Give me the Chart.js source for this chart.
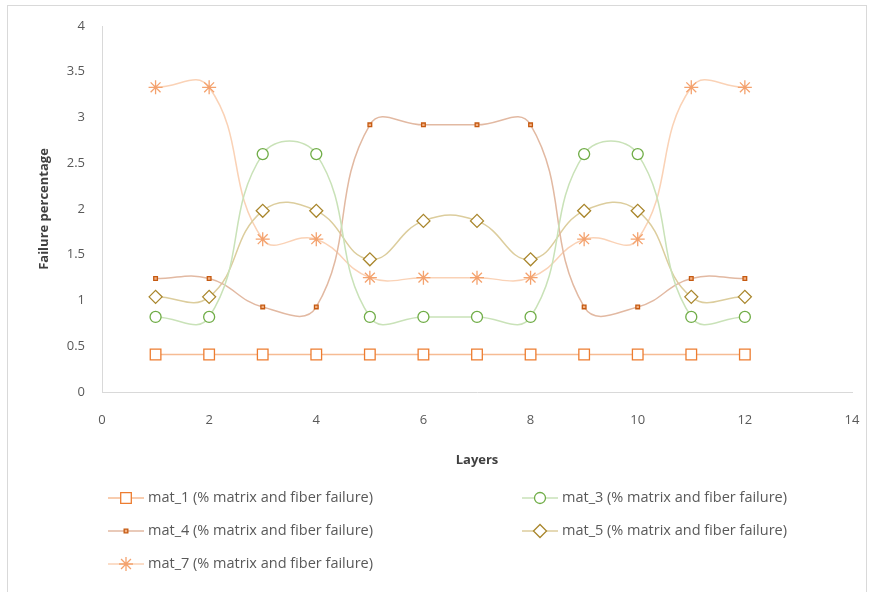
<!DOCTYPE html>
<html>
<head>
<meta charset="utf-8">
<script src="https://cdn.jsdelivr.net/npm/chart.js@4.4.1/dist/chart.umd.min.js"></script>
<style>
  body { margin: 0; background: #fff; }
  #wrap { position: relative; width: 872px; height: 592px; }
  #frame { position: absolute; left: 7px; top: 5px; width: 858px; height: 600px; border: 1px solid #d9d9d9; }
  canvas { position: absolute; left: 0; top: 0; }
</style>
</head>
<body>
<div id="wrap">
  <div id="frame"></div>
  <canvas id="chart1" width="872" height="592"></canvas>
</div>
<script>
const layers = [1, 2, 3, 4, 5, 6, 7, 8, 9, 10, 11, 12];

const mat_1 = [0.41, 0.41, 0.41, 0.41, 0.41, 0.41, 0.41, 0.41, 0.41, 0.41, 0.41, 0.41];
const mat_3 = [0.82, 0.82, 2.6, 2.6, 0.82, 0.82, 0.82, 0.82, 2.6, 2.6, 0.82, 0.82];
const mat_4 = [1.24, 1.24, 0.93, 0.93, 2.92, 2.92, 2.92, 2.92, 0.93, 0.93, 1.24, 1.24];
const mat_5 = [1.04, 1.04, 1.98, 1.98, 1.45, 1.87, 1.87, 1.45, 1.98, 1.98, 1.04, 1.04];
const mat_7 = [3.33, 3.33, 1.67, 1.67, 1.25, 1.25, 1.25, 1.25, 1.67, 1.67, 3.33, 3.33];

const seriesNames = [
  'mat_1 (% matrix and fiber failure)',
  'mat_3 (% matrix and fiber failure)',
  'mat_4 (% matrix and fiber failure)',
  'mat_5 (% matrix and fiber failure)',
  'mat_7 (% matrix and fiber failure)'
];

let toPoints = function(vals) {
  return vals.map((v, i) => ({x: layers[i], y: v}));
};

let makeSet = function(name, vals, line, marker, fill, style, radius) {
  return {
    label: name,
    data: toPoints(vals),
    borderColor: line,
    borderWidth: 1.5,
    pointStyle: style,
    pointRadius: radius,
    pointBorderColor: marker,
    pointBackgroundColor: fill,
    pointBorderWidth: 1.3,
    tension: 0.45,
    showLine: true
  };
};

const datasets = [
  makeSet(seriesNames[0], mat_1, '#f6bb93', '#ed7d31', '#ffffff', 'rect', 7.5),
  makeSet(seriesNames[1], mat_3, '#c9e2b8', '#70ad47', '#ffffff', 'circle', 5.5),
  makeSet(seriesNames[2], mat_4, '#e2b9a2', '#c55a11', '#f4b183', 'rect', 2.6),
  makeSet(seriesNames[3], mat_5, '#dccd9d', '#a9862c', '#ffffff', 'rectRot', 6.5),
  makeSet(seriesNames[4], mat_7, '#fad2b6', '#f4a26e', '#ffffff', 'star', 7)
];

// legend in two columns under the plot, like the original sheet
const legendPlugin = {
  id: 'sheetLegend',
  afterDraw(chart) {
    const ctx = chart.ctx;
    const cols = [{line: 108, text: 148}, {line: 522, text: 562}];
    const rows = [498, 531, 564];
    ctx.save();
    chart.data.datasets.forEach((ds, i) => {
      const c = cols[i % 2];
      const y = rows[Math.floor(i / 2)];
      ctx.strokeStyle = ds.borderColor;
      ctx.lineWidth = 1.5;
      ctx.beginPath();
      ctx.moveTo(c.line, y);
      ctx.lineTo(c.line + 36, y);
      ctx.stroke();
      ctx.lineWidth = ds.pointBorderWidth;
      ctx.strokeStyle = ds.pointBorderColor;
      ctx.fillStyle = ds.pointBackgroundColor;
      Chart.helpers.drawPoint(ctx, {pointStyle: ds.pointStyle, radius: ds.pointRadius, borderWidth: ds.pointBorderWidth}, c.line + 18, y);
      ctx.fillStyle = '#595959';
      ctx.font = '14.5px "Open Sans"';
      ctx.textBaseline = 'middle';
      ctx.textAlign = 'left';
      ctx.fillText(ds.label, c.text, y);
    });
    ctx.restore();
  }
};

const config = {
  type: 'scatter',
  data: { datasets: datasets },
  options: {
    responsive: false,
    animation: false,
    layout: { padding: { left: 0, top: 26, right: 20, bottom: 120 } },
    plugins: { legend: { display: false }, tooltip: { enabled: false } },
    scales: {
      x: {
        type: 'linear',
        min: 0,
        max: 14,
        afterFit: scale => { scale.height = 80; scale.paddingRight = 0; scale.paddingLeft = 0; },
        grid: { display: false, drawTicks: false },
        border: { display: true, color: '#d9d9d9' },
        ticks: { stepSize: 2, padding: 20, color: '#595959', font: { family: 'Open Sans', size: 13 } },
        title: { display: true, text: 'Layers', color: '#404040', padding: { top: 13 }, font: { family: 'Open Sans', size: 13, weight: 'bold' } }
      },
      y: {
        min: 0,
        max: 4,
        afterFit: scale => { scale.width = 102; },
        grid: { display: false, drawTicks: false },
        border: { display: true, color: '#d9d9d9' },
        ticks: { stepSize: 0.5, padding: 17, color: '#595959', font: { family: 'Open Sans', size: 13 }, callback: v => String(v) },
        title: { display: true, text: 'Failure percentage', color: '#404040', padding: { top: 36 }, font: { family: 'Open Sans', size: 13, weight: 'bold' } }
      }
    }
  },
  plugins: [legendPlugin]
};

const chart1 = new Chart(document.getElementById('chart1'), config);
</script>
</body>
</html>
